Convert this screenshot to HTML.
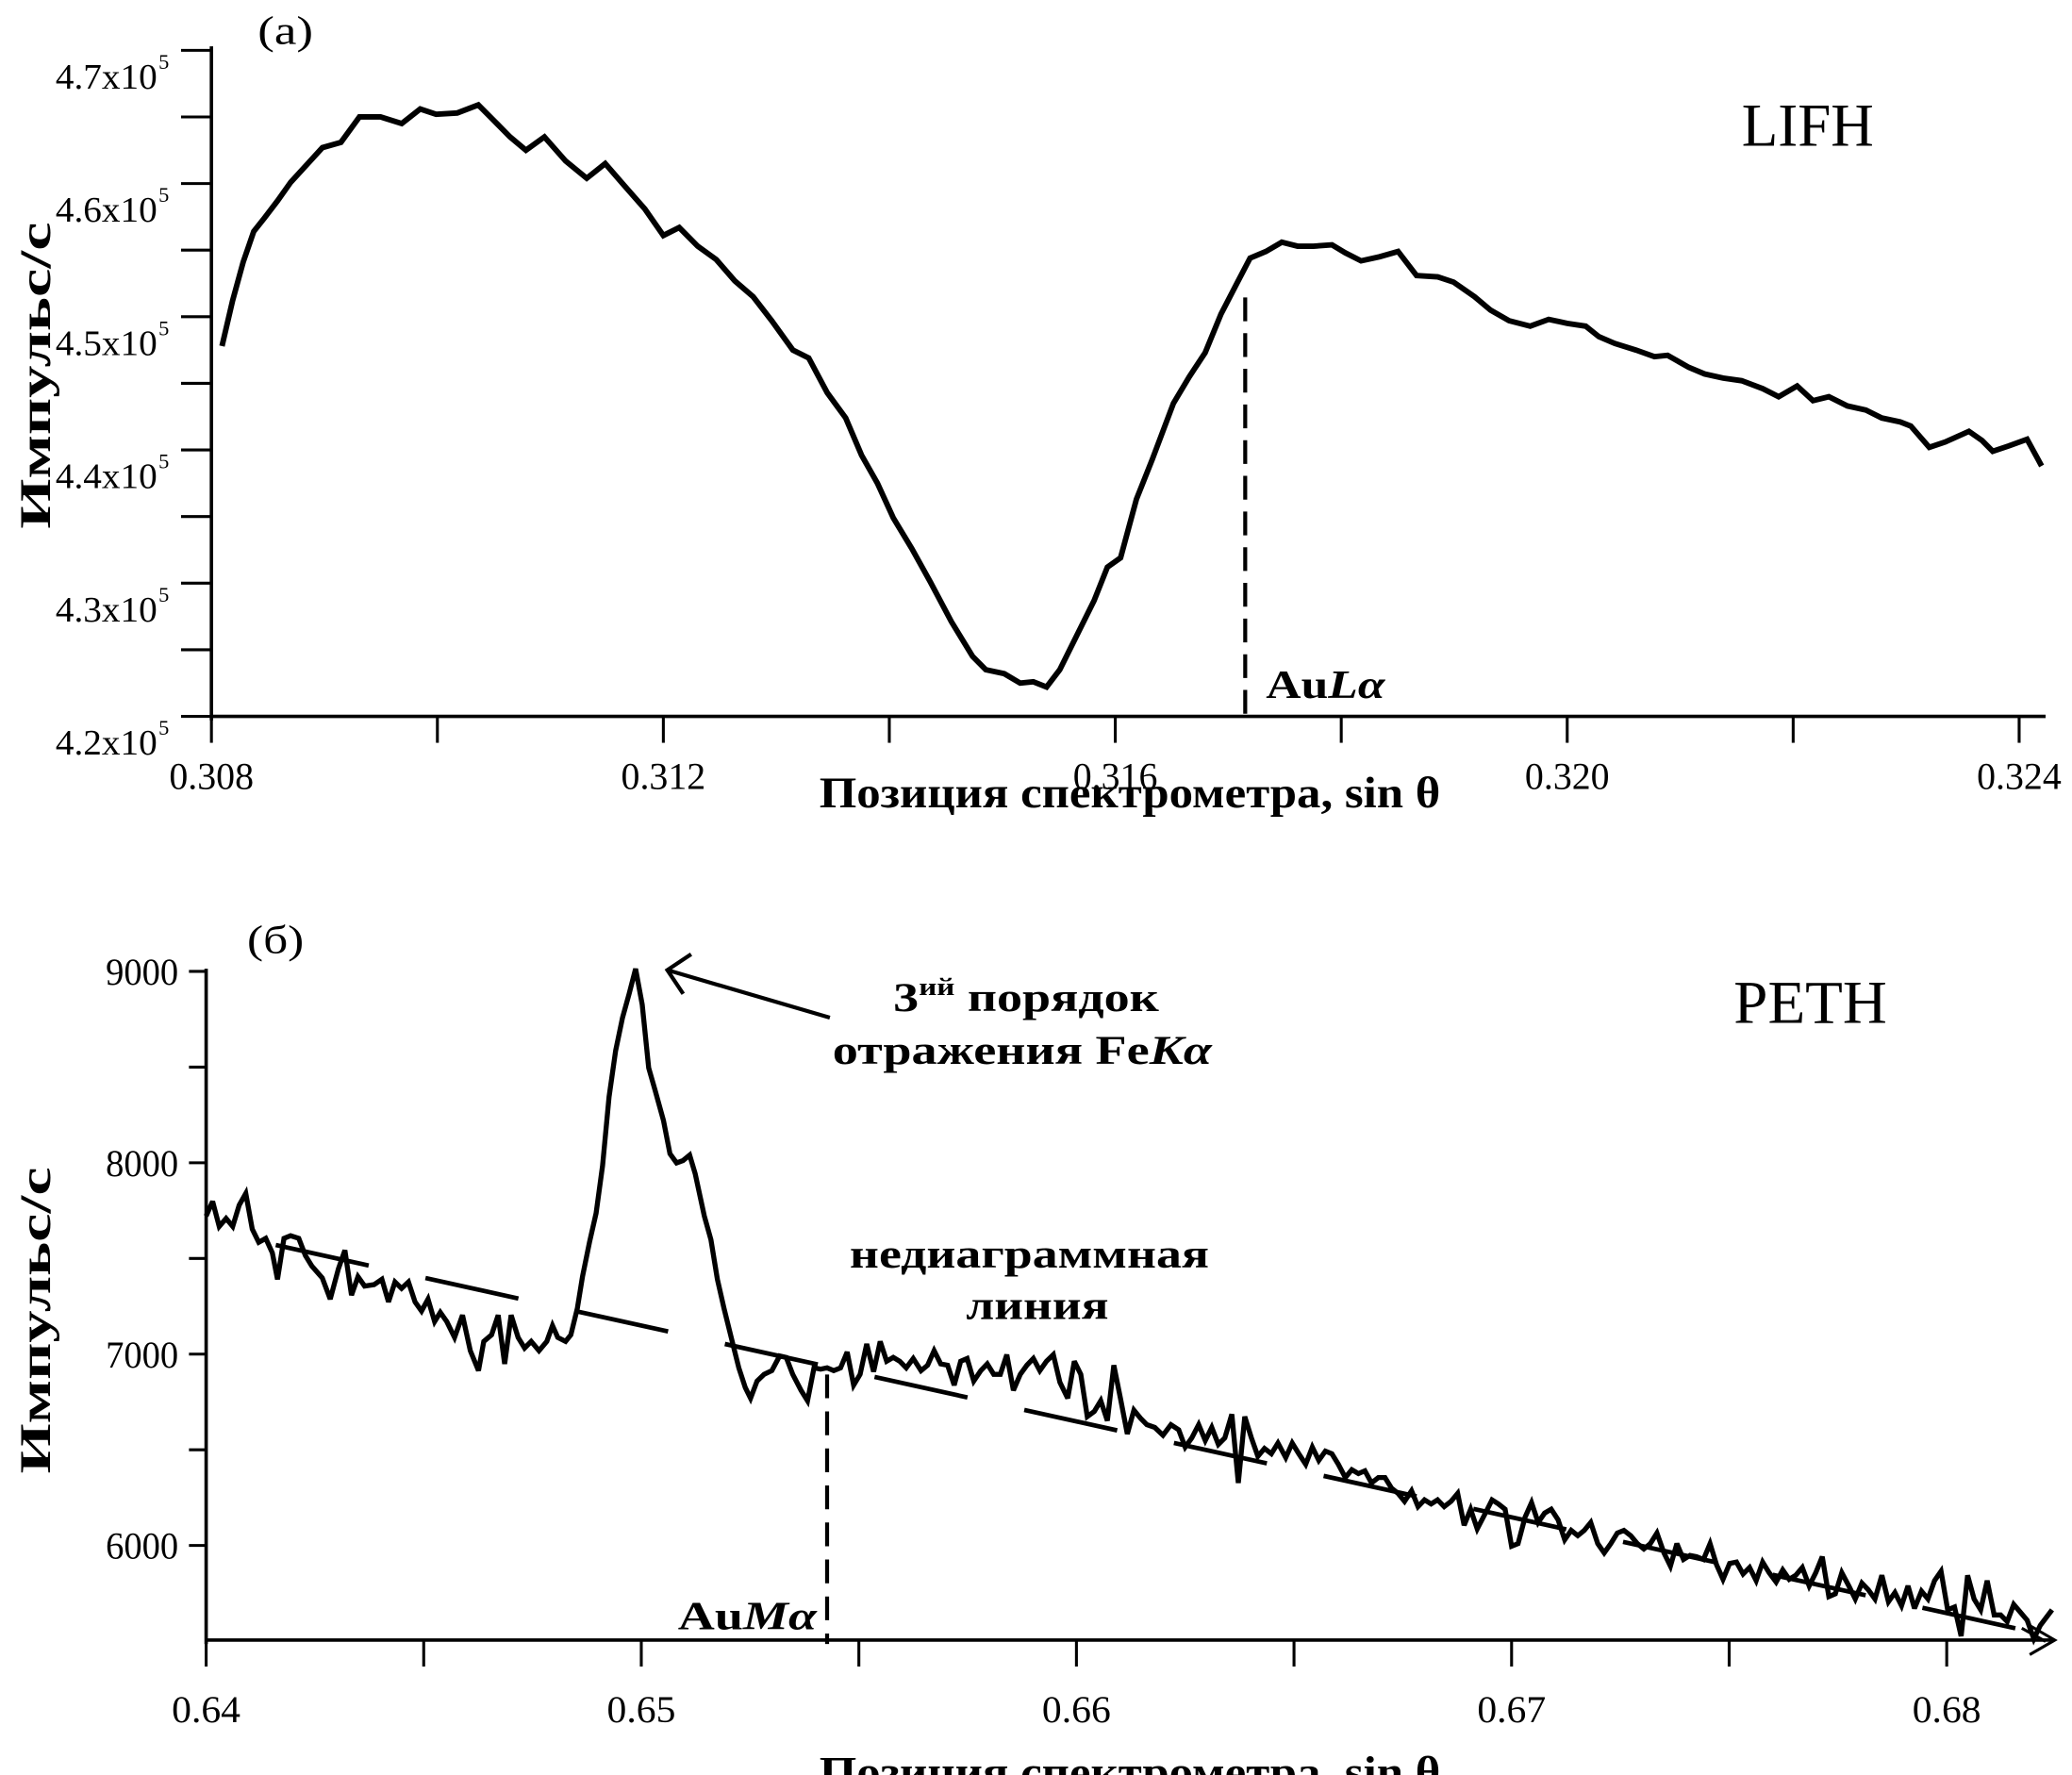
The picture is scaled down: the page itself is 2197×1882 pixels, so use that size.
<!DOCTYPE html>
<html><head><meta charset="utf-8"><style>
html,body{margin:0;padding:0;background:#fff}
svg{display:block}
text{font-family:"Liberation Serif",serif;fill:#000}
</style></head><body>
<svg id="fig" width="2197" height="1882" viewBox="0 0 1568 1343" xmlns="http://www.w3.org/2000/svg">
<g id="pa"></g>
<g id="pb"></g>
<text x="195" y="33" font-size="30" textLength="42" lengthAdjust="spacingAndGlyphs">(a)</text>
<text x="1318" y="110" font-size="46" textLength="100" lengthAdjust="spacingAndGlyphs">LIFH</text>
<text x="958" y="528" font-size="30" font-weight="bold" textLength="90" lengthAdjust="spacingAndGlyphs">Au<tspan font-style="italic">Lα</tspan></text>
<text x="620" y="611" font-size="33" font-weight="bold" textLength="470" lengthAdjust="spacingAndGlyphs">Позиция спектрометра, sin θ</text>
<text transform="translate(38,400) rotate(-90)" font-size="33" font-weight="bold" textLength="232" lengthAdjust="spacingAndGlyphs">Импульс/с</text>
<text x="187" y="721" font-size="30" textLength="43" lengthAdjust="spacingAndGlyphs">(б)</text>
<text x="1312" y="774" font-size="46" textLength="116" lengthAdjust="spacingAndGlyphs">PETH</text>
<text x="676" y="765" font-size="31" font-weight="bold" textLength="201" lengthAdjust="spacingAndGlyphs">3<tspan font-size="19" dy="-12">ий</tspan><tspan dy="12"> порядок</tspan></text>
<text x="630" y="805" font-size="31" font-weight="bold" textLength="287" lengthAdjust="spacingAndGlyphs">отражения Fe<tspan font-style="italic">Kα</tspan></text>
<text x="643" y="959" font-size="31" font-weight="bold" textLength="272" lengthAdjust="spacingAndGlyphs">недиаграммная</text>
<text x="731" y="998" font-size="31" font-weight="bold" textLength="108" lengthAdjust="spacingAndGlyphs">линия</text>
<text x="513" y="1233" font-size="30" font-weight="bold" textLength="105" lengthAdjust="spacingAndGlyphs">Au<tspan font-style="italic">Mα</tspan></text>
<text x="620" y="1352" font-size="33" font-weight="bold" textLength="470" lengthAdjust="spacingAndGlyphs">Позиция спектрометра, sin θ</text>
<text transform="translate(38,1115) rotate(-90)" font-size="33" font-weight="bold" textLength="232" lengthAdjust="spacingAndGlyphs">Импульс/с</text>
</svg>
<script>
// Panel (a): x in units of 1e-3 sin θ, y in thousands of counts/s
const xA=[308.094,308.187,308.281,308.374,308.468,308.585,308.702,308.842,308.982,309.146,309.310,309.497,309.684,309.848,309.988,310.175,310.363,310.526,310.643,310.784,310.947,311.135,311.322,311.485,311.649,311.836,312.000,312.140,312.304,312.468,312.632,312.795,312.959,313.146,313.287,313.450,313.614,313.754,313.895,314.035,314.199,314.363,314.550,314.737,314.854,315.018,315.158,315.275,315.392,315.509,315.673,315.813,315.930,316.047,316.187,316.327,316.515,316.655,316.795,316.936,317.076,317.193,317.333,317.474,317.614,317.754,317.918,318.035,318.175,318.339,318.503,318.667,318.854,318.994,319.181,319.322,319.485,319.673,319.836,320.000,320.164,320.281,320.421,320.608,320.772,320.889,321.076,321.216,321.380,321.544,321.731,321.871,322.035,322.175,322.316,322.480,322.643,322.784,322.947,323.041,323.205,323.345,323.556,323.673,323.766,323.906,324.070,324.199];
const yA=[447.8,451.2,454.1,456.4,457.4,458.7,460.1,461.4,462.7,463.1,465.0,465.0,464.5,465.6,465.2,465.3,465.9,464.5,463.5,462.5,463.5,461.7,460.4,461.5,459.9,458.1,456.1,456.7,455.3,454.3,452.7,451.5,449.7,447.5,446.9,444.3,442.4,439.6,437.5,434.9,432.6,430.1,427.1,424.5,423.5,423.2,422.5,422.6,422.2,423.5,426.3,428.7,431.2,431.9,436.3,439.3,443.5,445.5,447.3,450.2,452.5,454.4,454.9,455.6,455.3,455.3,455.4,454.8,454.2,454.5,454.9,453.1,453.0,452.6,451.5,450.5,449.7,449.3,449.8,449.5,449.3,448.5,448.0,447.5,447.0,447.1,446.2,445.7,445.4,445.2,444.6,444.0,444.8,443.7,444.0,443.3,443.0,442.4,442.1,441.8,440.2,440.6,441.4,440.7,439.9,440.3,440.8,438.8];
const xTicksA=[308,310,312,314,316,318,320,322,324];
const xLabelsA=["0.308","","0.312","","0.316","","0.320","","0.324"];
const yTicksA=[420,425,430,435,440,445,450,455,460,465,470];
const yLabelsA=["4.2","","4.3","","4.4","","4.5","","4.6","","4.7"];
const markerA=[317.15];
// Panel (b)
const xB=[640.00,640.15,640.30,640.46,640.61,640.76,640.91,641.06,641.21,641.37,641.52,641.64,641.79,641.94,642.13,642.28,642.43,642.67,642.85,643.04,643.19,643.34,643.49,643.64,643.86,644.04,644.19,644.34,644.49,644.65,644.80,644.95,645.10,645.25,645.38,645.53,645.71,645.89,646.07,646.26,646.38,646.56,646.71,646.86,647.01,647.17,647.32,647.47,647.65,647.83,647.96,648.08,648.26,648.38,648.53,648.65,648.81,648.96,649.11,649.26,649.41,649.57,649.72,649.87,650.02,650.17,650.32,650.51,650.66,650.81,650.96,651.11,651.24,651.45,651.60,651.75,651.90,652.09,652.24,652.39,652.51,652.66,652.82,653.00,653.18,653.33,653.48,653.67,653.82,653.97,654.12,654.27,654.42,654.58,654.73,654.88,655.03,655.18,655.34,655.49,655.64,655.79,655.94,656.09,656.25,656.43,656.58,656.73,656.88,657.04,657.19,657.34,657.49,657.64,657.80,657.95,658.10,658.25,658.40,658.55,658.71,658.86,659.01,659.16,659.31,659.47,659.62,659.80,659.95,660.10,660.25,660.41,660.56,660.71,660.86,661.01,661.17,661.32,661.47,661.62,661.80,661.99,662.17,662.35,662.50,662.65,662.81,662.96,663.11,663.26,663.41,663.57,663.72,663.87,664.02,664.17,664.32,664.48,664.63,664.81,664.96,665.11,665.27,665.42,665.57,665.72,665.87,666.02,666.18,666.33,666.48,666.63,666.78,666.94,667.09,667.24,667.39,667.54,667.70,667.85,668.00,668.15,668.30,668.45,668.61,668.76,668.91,669.06,669.21,669.40,669.55,669.70,669.85,670.00,670.15,670.31,670.46,670.61,670.76,670.91,671.07,671.22,671.37,671.52,671.67,671.82,671.98,672.13,672.28,672.43,672.58,672.74,672.89,673.04,673.19,673.34,673.50,673.65,673.80,673.95,674.10,674.25,674.41,674.56,674.71,674.86,675.01,675.17,675.32,675.47,675.62,675.77,675.92,676.08,676.23,676.38,676.53,676.68,676.84,676.99,677.14,677.29,677.44,677.59,677.75,677.90,678.05,678.20,678.35,678.51,678.66,678.81,678.96,679.11,679.26,679.42,679.57,679.72,679.87,680.02,680.18,680.33,680.48,680.63,680.78,680.93,681.09,681.24,681.39,681.54,681.69,681.85,682.00,682.15,682.42];
const yB=[7722,7798,7667,7709,7667,7778,7840,7653,7584,7605,7529,7391,7605,7619,7605,7515,7460,7398,7287,7446,7543,7308,7405,7356,7363,7391,7273,7377,7343,7377,7273,7225,7287,7170,7218,7170,7087,7204,7018,6914,7066,7101,7204,6949,7204,7087,7032,7066,7018,7066,7149,7087,7066,7101,7239,7405,7584,7736,7985,8344,8586,8758,8883,9014,8827,8496,8378,8220,8047,7999,8012,8040,7943,7722,7598,7391,7239,7066,6928,6825,6769,6859,6894,6914,6990,6983,6894,6811,6756,6928,6921,6928,6914,6928,7011,6838,6894,7053,6908,7066,6963,6983,6963,6928,6977,6914,6942,7018,6949,6942,6838,6963,6977,6859,6914,6949,6894,6894,6997,6811,6894,6942,6977,6914,6963,6997,6852,6769,6963,6894,6673,6700,6756,6652,6942,6769,6583,6707,6666,6631,6617,6576,6631,6604,6514,6562,6631,6548,6617,6528,6562,6686,6327,6673,6562,6466,6507,6479,6535,6459,6535,6479,6424,6514,6445,6493,6479,6424,6355,6396,6376,6390,6327,6355,6355,6300,6272,6231,6286,6203,6238,6217,6238,6203,6231,6272,6106,6189,6086,6169,6238,6217,6189,5996,6010,6148,6224,6120,6169,6189,6134,6030,6079,6051,6079,6120,6010,5961,6010,6065,6079,6051,6010,5982,6010,6065,5961,5892,6010,5927,5948,5941,5927,6010,5899,5823,5906,5913,5851,5885,5816,5913,5858,5809,5872,5823,5844,5885,5789,5858,5941,5733,5747,5858,5789,5720,5803,5768,5720,5844,5706,5754,5685,5789,5671,5761,5720,5816,5865,5664,5678,5526,5844,5720,5664,5816,5637,5637,5602,5692,5651,5609,5512,5582,5664];
const bgX=[641.6,682.4];
const bgY=[7570,5526];
const markerB=[654.27];
const peakB=[649.87,9014];
const xTicksB=[640,645,650,655,660,665,670,675,680];
const xLabelsB=["0.64","","0.65","","0.66","","0.67","","0.68"];
const yTicksB=[6000,6500,7000,7500,8000,8500,9000];
const yLabelsB=["6000","","7000","","8000","","9000"];

const NS="http://www.w3.org/2000/svg";
function mk(parent,tag,attrs){const e=document.createElementNS(NS,tag);for(const k in attrs)e.setAttribute(k,attrs[k]);parent.appendChild(e);return e;}
const sxA=v=>160+(v-308)*85.5, syA=v=>542-(v-420)*10.08;
const sxB=v=>156+(v-640)*32.93, syB=v=>735+(9000-v)*0.1448;
const pa=document.getElementById('pa'), pb=document.getElementById('pb');

// Panel a axes
let e=mk(pa,'line',{x1:160,y1:542,x2:1548,y2:542,stroke:'#000','stroke-width':2.6});


e=mk(pa,'line',{x1:160,y1:35,x2:160,y2:545,stroke:'#000','stroke-width':2.6});


xTicksA.forEach((t,i)=>{const x=sxA(t);
 let l=mk(pa,'line',{x1:x,y1:542,x2:x,y2:562,stroke:'#000','stroke-width':2.2});
 
 
 if(xLabelsA[i]){let tx=mk(pa,'text',{x:x-32,y:597,'font-size':29,textLength:64,lengthAdjust:'spacingAndGlyphs'});tx.textContent=xLabelsA[i];
 
 }
});
yTicksA.forEach((t,i)=>{const y=syA(t);
 let l=mk(pa,'line',{x1:137,y1:y,x2:160,y2:y,stroke:'#000','stroke-width':2.2});
 
 
 if(yLabelsA[i]){let tx=mk(pa,'text',{x:42,y:y+29,'font-size':27,textLength:77,lengthAdjust:'spacingAndGlyphs'});
 tx.textContent=yLabelsA[i]+'x10';
 
 
 let sp=mk(pa,'text',{x:120,y:y+14,'font-size':16});sp.textContent='5';
 
 }
});
e=mk(pa,'line',{x1:sxA(markerA[0]),y1:225,x2:sxA(markerA[0]),y2:545,stroke:'#000','stroke-width':3,'stroke-dasharray':'18 9'});


let d=xA.map((v,i)=>(i?'L':'M')+sxA(v).toFixed(1)+','+syA(yA[i]).toFixed(1)).join('');
e=mk(pa,'path',{d:d,fill:'none',stroke:'#000','stroke-width':4.2,'stroke-linejoin':'miter','stroke-miterlimit':3});



// Panel b axes
e=mk(pb,'line',{x1:156,y1:1241,x2:1553,y2:1241,stroke:'#000','stroke-width':2.6});


e=mk(pb,'path',{d:'M1536,1230 L1555,1241 L1536,1252 M1530,1232 L1548,1242',fill:'none',stroke:'#000','stroke-width':2.2});


e=mk(pb,'line',{x1:156,y1:733,x2:156,y2:1244,stroke:'#000','stroke-width':2.6});


xTicksB.forEach((t,i)=>{const x=sxB(t);
 let l=mk(pb,'line',{x1:x,y1:1241,x2:x,y2:1261,stroke:'#000','stroke-width':2.2});
 
 
 if(xLabelsB[i]){let tx=mk(pb,'text',{x:x-26,y:1303,'font-size':29,textLength:52,lengthAdjust:'spacingAndGlyphs'});tx.textContent=xLabelsB[i];
 
 }
});
yTicksB.forEach((t,i)=>{const y=syB(t);
 let l=mk(pb,'line',{x1:143,y1:y,x2:156,y2:y,stroke:'#000','stroke-width':2.2});
 
 
 if(yLabelsB[i]){let tx=mk(pb,'text',{x:80,y:y+10,'font-size':29,textLength:55,lengthAdjust:'spacingAndGlyphs'});tx.textContent=yLabelsB[i];
 
 }
});
e=mk(pb,'line',{x1:sxB(bgX[0]),y1:syB(bgY[0]),x2:sxB(bgX[1]),y2:syB(bgY[1]),stroke:'#000','stroke-width':3.4,'stroke-dasharray':'72 44'});


e=mk(pb,'line',{x1:sxB(markerB[0]),y1:1040,x2:sxB(markerB[0]),y2:1244,stroke:'#000','stroke-width':3,'stroke-dasharray':'18 10'});


d=xB.map((v,i)=>(i?'L':'M')+sxB(v).toFixed(1)+','+syB(yB[i]).toFixed(1)).join('');
e=mk(pb,'path',{d:d,fill:'none',stroke:'#000','stroke-width':3.8,'stroke-linejoin':'miter','stroke-miterlimit':3});


const px=sxB(peakB[0])+24, py=syB(peakB[1])+1;
e=mk(pb,'path',{d:`M628,770 L${px},${py} M${px+18},${py-12} L${px},${py} L${px+12},${py+18}`,fill:'none',stroke:'#000','stroke-width':3});


</script>
</body></html>
